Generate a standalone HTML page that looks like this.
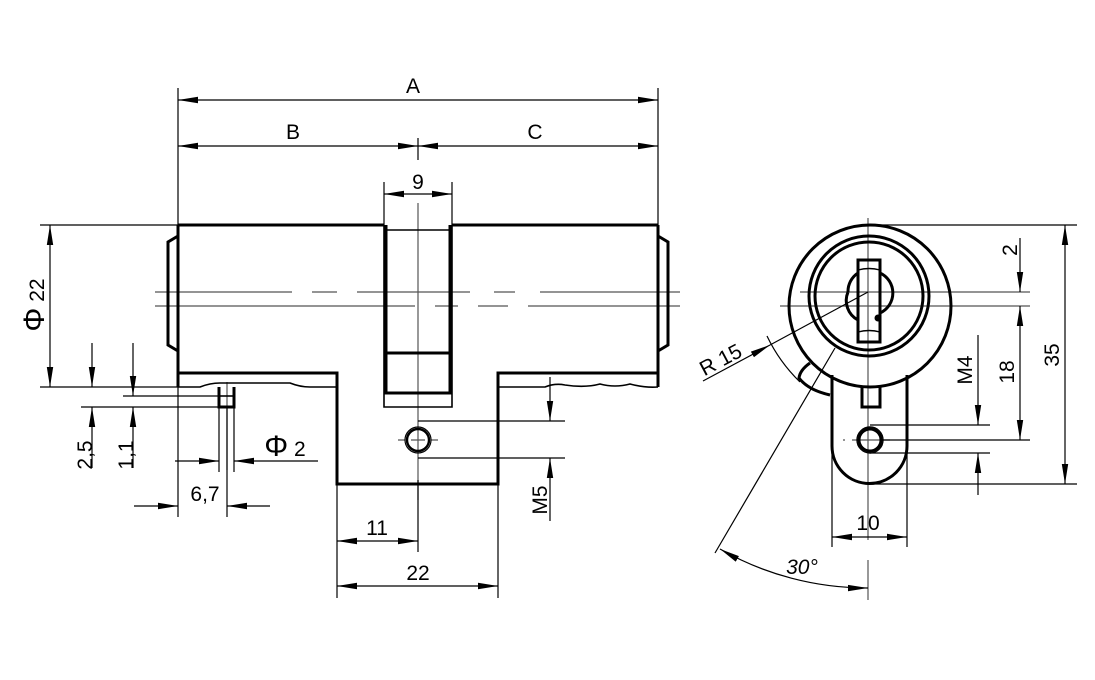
<!DOCTYPE html>
<html><head><meta charset="utf-8"><style>
html,body{margin:0;padding:0;background:#fff;}
svg{display:block}
text{font-family:"Liberation Sans",sans-serif;font-size:21px;fill:#000}
</style></head><body>
<svg width="1095" height="680" viewBox="0 0 1095 680" xmlns="http://www.w3.org/2000/svg">
<defs>
<marker id="a" markerUnits="userSpaceOnUse" viewBox="0 -4 20 8" refX="20" refY="0" markerWidth="20" markerHeight="8" orient="auto-start-reverse">
<path d="M0,-3.2 L20,0 L0,3.2 z" fill="#000"/></marker>
</defs>
<g fill="none" stroke="#000">
<g stroke="#555" stroke-width="1.2">
<path d="M155,292 H292 M312,292 H337 M357,292 H470 M494,292 H515 M540,292 H680" />
<path d="M155,306 H415 M435,306 H458 M478,306 H508 M528,306 H680" />
<path d="M418,203 V500"/>
<path d="M227,382 V470"/>
<path d="M398,440 H405 M411,440 H425 M431,440 H438"/>
</g>
<g stroke-width="3">
<path d="M178,225 H384 M452,225 H658"/>
<path d="M178,225 V387"/>
<path d="M658,225 V387"/>
<path d="M178,373 H337 V484 H498 V373 H658"/>
<path d="M386,225 V393 H450 V225"/>
<path d="M386,353 H450"/>
<path d="M178,236 L168,242 V345 L178,351"/>
<path d="M658,236 L668,242 V345 L658,351"/>
<path d="M219,387 V407 H234 V387"/>
</g>
<g stroke-width="1.6">
<path d="M178,387 H200 Q210,383 220,383 H290 Q300,387 310,387 H337"/>
<path d="M498,387 H545 Q555,383 565,385 Q585,388 600,384 Q615,388 630,384 Q645,388 658,387"/>
<path d="M384,225 V407 H452 V225"/>
<path d="M386,230 H450"/>
<path d="M384,393 H452"/>
<path d="M219,396 H234"/>
</g>
<circle cx="418" cy="440" r="13" stroke-width="1.2"/>
<circle cx="418" cy="440" r="11" stroke-width="2.4"/>

<g stroke-width="1.2">
<path d="M178,88 V225 M658,88 V225 M418,138 V160 M384,182 V225 M452,182 V225"/>
<path d="M178,100 H658" marker-start="url(#a)" marker-end="url(#a)"/>
<path d="M178,146 H418" marker-start="url(#a)" marker-end="url(#a)"/>
<path d="M418,146 H658" marker-start="url(#a)" marker-end="url(#a)"/>
<path d="M384,194 H452" marker-start="url(#a)" marker-end="url(#a)"/>
<path d="M40,225 H178 M40,387 H178"/>
<path d="M50,225 V387" marker-start="url(#a)" marker-end="url(#a)"/>
<path d="M81,407 H219 M123,396 H219"/>
<path d="M92,343 V387" marker-end="url(#a)"/>
<path d="M92,468 V407" marker-end="url(#a)"/>
<path d="M133,343 V396" marker-end="url(#a)"/>
<path d="M133,468 V407" marker-end="url(#a)"/>
<path d="M219,407 V472 M234,407 V472 M178,387 V517 M227,407 V517"/>
<path d="M175,461 H219" marker-end="url(#a)"/>
<path d="M318,461 H234" marker-end="url(#a)"/>
<path d="M134,506 H178" marker-end="url(#a)"/>
<path d="M270,506 H227" marker-end="url(#a)"/>
<path d="M337,484 V598 M498,484 V598 M418,480 V552"/>
<path d="M337,541 H418" marker-start="url(#a)" marker-end="url(#a)"/>
<path d="M337,586 H498" marker-start="url(#a)" marker-end="url(#a)"/>
<path d="M418,421 H565 M418,458 H565"/>
<path d="M550,377 V421" marker-end="url(#a)"/>
<path d="M550,521 V458" marker-end="url(#a)"/>
</g>

<g stroke="#555" stroke-width="1.2">
<path d="M868,218 V540 M868,560 V600"/>
<path d="M780,306 H1030 M800,292 H1030"/>
<path d="M843,440 H845 M852,440 H890"/>
</g>
<g stroke-width="3">
<circle cx="870" cy="306" r="81"/>
<circle cx="869" cy="296" r="60"/>
<circle cx="869" cy="296" r="54"/>
<path d="M848,292 A22,22 0 0 1 858,273 M880,273 A22,22 0 0 1 880,313"/>
<path d="M858,320 A22,22 0 0 1 848,292"/>
<rect x="858" y="260" width="22" height="82"/>
<path d="M832,375 V446 A37.5,37.5 0 0 0 907,446 V375"/>
<path d="M862,387 V407 H880 V387"/>
<path d="M810,363 Q800,370 799,378 Q808,390 830,395"/>
<circle cx="870" cy="440" r="11"/>
<circle cx="878" cy="318" r="2" fill="#000"/>
</g>
<g stroke-width="1.4">
<path d="M858,270 Q869,267 880,270 M858,332 Q869,329 880,332"/>
<circle cx="870" cy="440" r="13"/>
</g>
<g stroke-width="1.2">
<path d="M868,225 H1077 M868,484 H1077"/>
<path d="M1065,225 V484" marker-start="url(#a)" marker-end="url(#a)"/>
<path d="M1020,238 V292" marker-end="url(#a)"/>
<path d="M1020,306 V440" marker-start="url(#a)" marker-end="url(#a)"/>
<path d="M880,440 H1030"/>
<path d="M870,425 H990 M870,453 H990"/>
<path d="M978,335 V425" marker-end="url(#a)"/>
<path d="M978,495 V453" marker-end="url(#a)"/>
<path d="M832,446 V547 M907,446 V547"/>
<path d="M832,537 H907" marker-start="url(#a)" marker-end="url(#a)"/>
<path d="M703,381 L770,345" marker-end="url(#a)"/>
<path d="M770,345 L868,292"/>
<path d="M835,348 L715,553"/>
<path d="M767,336 A160,160 0 0 0 800,382"/>
<path d="M720,549 A296,296 0 0 0 868,588" marker-start="url(#a)" marker-end="url(#a)"/>
</g>
</g>

<text x="413" y="93" text-anchor="middle" font-size="22">A</text>
<text x="293" y="139" text-anchor="middle" font-size="22">B</text>
<text x="535" y="139" text-anchor="middle" font-size="22">C</text>
<text x="418" y="189" text-anchor="middle" font-size="22">9</text>
<text transform="translate(44,305) rotate(-90)" text-anchor="middle" font-size="24"><tspan font-size="30">Φ</tspan> 22</text>
<text transform="translate(92,455) rotate(-90)" text-anchor="middle" font-size="20">2,5</text>
<text transform="translate(133,455) rotate(-90)" text-anchor="middle" font-size="20">1,1</text>
<text x="285" y="456" text-anchor="middle" font-size="24"><tspan font-size="30">Φ</tspan> 2</text>
<text x="205" y="501" text-anchor="middle" font-size="21">6,7</text>
<text x="377" y="535" text-anchor="middle" font-size="21">11</text>
<text x="418" y="580" text-anchor="middle" font-size="21">22</text>
<text transform="translate(547,500) rotate(-90)" text-anchor="middle" font-size="20">M5</text>
<text transform="translate(1017,250) rotate(-90)" text-anchor="middle" font-size="20">2</text>
<text transform="translate(1014,372) rotate(-90)" text-anchor="middle" font-size="21">18</text>
<text transform="translate(1059,355) rotate(-90)" text-anchor="middle" font-size="21">35</text>
<text transform="translate(972,370) rotate(-90)" text-anchor="middle" font-size="20">M4</text>
<text x="868" y="530" text-anchor="middle" font-size="21">10</text>
<text transform="translate(724,366) rotate(-28)" text-anchor="middle" font-size="21">R 15</text>
<text x="802" y="574" text-anchor="middle" font-size="20" font-style="italic">30°</text>
</svg>
</body></html>
